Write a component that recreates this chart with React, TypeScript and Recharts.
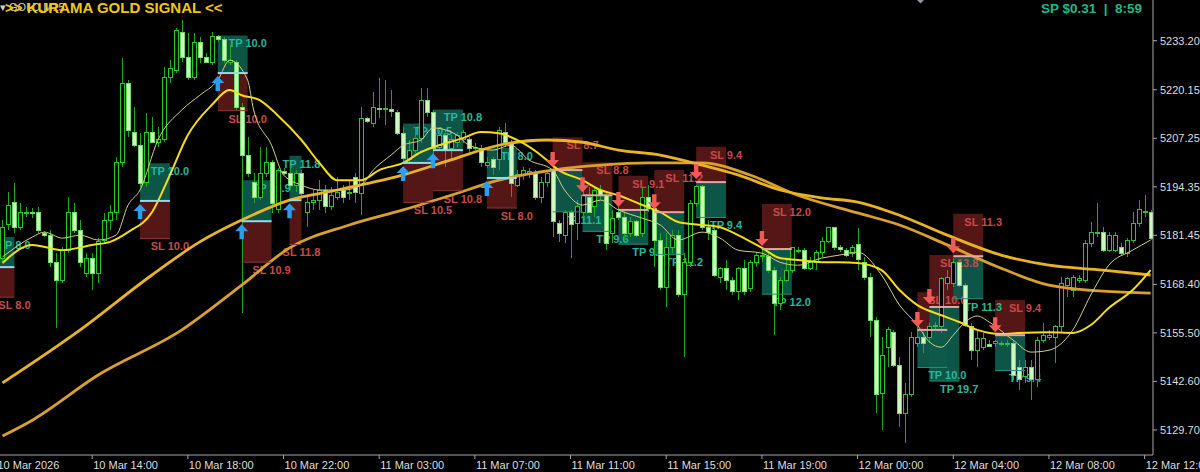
import React from 'react';
import { ComposedChart, Bar, Line, XAxis, YAxis, ReferenceArea, ReferenceLine, Scatter } from 'recharts';

// GOLD M15, bar 1 = second bar from the left edge; [open, high, low, close]
const ohlc: [number, number, number, number][] = [
  [5175.4, 5185.5, 5174.3, 5183.4], [5184.2, 5192.9, 5182.8, 5189.5], [5190.3, 5195.3, 5182.0, 5183.4], [5183.6, 5190.0, 5182.8, 5187.6],
  [5187.4, 5189.0, 5186.3, 5187.6], [5187.6, 5188.7, 5186.0, 5187.4], [5187.6, 5189.0, 5182.0, 5182.8], [5182.0, 5182.6, 5181.0, 5181.5],
  [5181.5, 5182.8, 5173.0, 5174.1], [5174.1, 5176.7, 5156.8, 5169.5], [5169.5, 5178.3, 5168.7, 5177.5], [5177.5, 5191.6, 5176.7, 5187.4],
  [5187.4, 5190.0, 5182.0, 5182.8], [5182.8, 5185.5, 5173.0, 5174.3], [5171.4, 5176.7, 5170.3, 5175.4], [5175.4, 5176.7, 5166.9, 5171.4],
  [5171.4, 5180.7, 5168.7, 5179.7], [5180.2, 5187.4, 5179.4, 5185.5], [5185.5, 5189.5, 5182.8, 5187.4], [5187.4, 5202.3, 5185.5, 5200.7],
  [5200.7, 5228.6, 5199.6, 5221.9], [5221.9, 5222.7, 5207.6, 5209.4], [5208.9, 5215.5, 5204.9, 5205.4], [5205.4, 5208.6, 5194.3, 5195.3],
  [5195.6, 5214.0, 5194.3, 5208.9], [5208.9, 5212.9, 5206.0, 5206.2], [5206.0, 5210.2, 5204.9, 5206.8], [5206.8, 5226.2, 5206.2, 5223.3],
  [5223.3, 5228.0, 5221.9, 5225.9], [5225.4, 5236.6, 5224.6, 5236.0], [5235.5, 5238.7, 5227.5, 5228.6], [5228.6, 5235.2, 5222.7, 5223.3],
  [5223.3, 5235.2, 5222.7, 5232.6], [5232.6, 5234.2, 5227.2, 5228.6], [5228.6, 5229.9, 5227.2, 5227.5], [5227.5, 5235.5, 5226.7, 5234.2],
  [5234.2, 5234.7, 5232.8, 5233.4], [5233.4, 5234.2, 5227.2, 5228.0], [5227.5, 5232.0, 5226.7, 5228.0], [5227.5, 5228.0, 5214.8, 5215.5],
  [5215.5, 5216.6, 5160.8, 5202.8], [5202.8, 5207.6, 5196.9, 5198.0], [5195.6, 5198.0, 5190.0, 5191.6], [5191.6, 5204.9, 5190.8, 5198.0],
  [5198.0, 5204.9, 5196.9, 5200.9], [5200.7, 5201.5, 5187.4, 5190.0], [5188.2, 5199.3, 5187.4, 5198.8], [5198.3, 5199.3, 5197.5, 5198.0],
  [5198.0, 5199.6, 5193.5, 5194.8], [5194.8, 5198.8, 5192.9, 5198.0], [5198.0, 5198.8, 5191.6, 5192.7], [5187.4, 5191.6, 5183.6, 5190.3],
  [5190.3, 5193.5, 5188.2, 5190.8], [5190.8, 5196.1, 5188.2, 5193.5], [5193.5, 5194.8, 5187.4, 5189.0], [5189.0, 5194.3, 5188.2, 5192.1],
  [5191.6, 5196.9, 5190.8, 5192.9], [5193.5, 5194.8, 5190.0, 5191.4], [5192.7, 5196.1, 5190.8, 5192.9], [5196.9, 5198.0, 5190.0, 5192.9],
  [5192.7, 5215.5, 5186.8, 5212.6], [5212.6, 5212.9, 5211.3, 5211.6], [5211.3, 5219.5, 5210.2, 5215.5], [5215.3, 5223.3, 5212.6, 5215.0],
  [5214.8, 5222.7, 5210.8, 5215.3], [5215.0, 5220.1, 5212.9, 5214.5], [5214.2, 5214.8, 5208.1, 5208.6], [5208.6, 5210.2, 5200.7, 5202.0],
  [5201.5, 5206.8, 5200.7, 5204.1], [5204.1, 5210.2, 5203.3, 5207.3], [5207.3, 5220.6, 5206.0, 5217.4], [5217.4, 5220.6, 5212.9, 5214.0],
  [5214.0, 5214.8, 5201.5, 5204.6], [5204.9, 5209.4, 5204.1, 5208.1], [5208.1, 5209.4, 5199.6, 5204.1], [5204.6, 5208.1, 5201.5, 5206.8],
  [5206.2, 5208.9, 5204.9, 5208.1], [5206.8, 5209.4, 5206.0, 5208.9], [5206.8, 5207.6, 5203.3, 5204.6], [5204.6, 5206.0, 5203.6, 5204.9],
  [5204.6, 5205.4, 5199.6, 5200.7], [5200.1, 5202.3, 5199.3, 5200.9], [5201.5, 5202.3, 5197.5, 5199.6], [5201.5, 5210.2, 5198.8, 5209.4],
  [5208.9, 5211.3, 5204.9, 5206.0], [5206.2, 5206.8, 5191.6, 5195.3], [5194.8, 5198.8, 5194.3, 5197.5], [5197.5, 5199.6, 5196.1, 5198.8],
  [5197.5, 5199.3, 5196.6, 5198.3], [5198.0, 5198.8, 5190.8, 5191.6], [5191.6, 5196.9, 5190.0, 5195.6], [5195.6, 5198.8, 5194.3, 5198.0],
  [5198.8, 5199.6, 5181.0, 5185.0], [5184.7, 5185.5, 5179.7, 5182.0], [5181.5, 5188.2, 5179.4, 5187.4], [5187.4, 5188.2, 5175.4, 5184.2],
  [5184.7, 5190.8, 5180.2, 5189.0], [5187.4, 5194.3, 5186.3, 5192.1], [5191.6, 5194.3, 5187.4, 5187.6], [5189.0, 5194.3, 5186.3, 5193.5],
  [5193.5, 5194.8, 5190.8, 5192.1], [5192.1, 5192.9, 5177.5, 5179.4], [5182.0, 5188.2, 5179.4, 5186.0], [5187.6, 5189.0, 5185.5, 5186.3],
  [5186.3, 5188.2, 5180.2, 5182.0], [5182.0, 5186.3, 5181.0, 5185.0], [5185.0, 5185.5, 5181.0, 5181.5], [5182.0, 5194.3, 5181.0, 5191.4],
  [5191.4, 5194.8, 5187.6, 5188.7], [5188.7, 5190.0, 5173.0, 5180.2], [5180.2, 5182.0, 5166.9, 5167.7], [5167.7, 5182.0, 5162.4, 5178.1],
  [5178.1, 5182.8, 5176.7, 5181.5], [5181.5, 5182.8, 5165.0, 5165.6], [5165.6, 5176.7, 5149.1, 5174.1], [5174.1, 5190.8, 5173.0, 5190.0],
  [5190.0, 5194.8, 5189.0, 5194.3], [5194.3, 5194.8, 5182.8, 5183.6], [5183.6, 5185.5, 5180.2, 5182.3], [5182.8, 5183.6, 5170.3, 5170.9],
  [5170.3, 5173.0, 5168.7, 5172.7], [5172.7, 5174.9, 5166.9, 5169.5], [5169.5, 5170.3, 5165.6, 5166.4], [5166.4, 5173.0, 5164.2, 5172.7],
  [5172.7, 5174.9, 5165.6, 5166.4], [5167.4, 5174.9, 5166.4, 5174.3], [5174.3, 5177.0, 5173.0, 5176.2], [5175.7, 5177.5, 5174.3, 5176.2],
  [5175.7, 5176.7, 5171.4, 5172.2], [5172.2, 5173.0, 5154.9, 5163.4], [5163.4, 5170.3, 5161.6, 5169.5], [5169.5, 5174.9, 5169.0, 5172.2],
  [5172.2, 5178.3, 5171.4, 5178.1], [5177.3, 5178.3, 5176.7, 5177.5], [5177.3, 5178.1, 5172.2, 5172.7], [5172.7, 5175.7, 5172.2, 5174.3],
  [5174.3, 5177.5, 5172.2, 5177.0], [5177.0, 5181.0, 5175.7, 5179.7], [5179.7, 5183.6, 5179.4, 5183.4], [5183.4, 5183.6, 5177.5, 5178.1],
  [5178.1, 5178.9, 5177.0, 5177.8], [5177.5, 5178.1, 5175.7, 5176.2], [5176.7, 5178.9, 5175.7, 5178.1], [5178.9, 5183.4, 5172.2, 5174.9],
  [5174.3, 5175.7, 5169.5, 5170.3], [5170.3, 5171.4, 5154.4, 5158.9], [5158.9, 5159.7, 5134.2, 5139.0], [5139.5, 5154.4, 5129.7, 5149.6],
  [5151.7, 5157.1, 5146.4, 5156.3], [5155.7, 5156.3, 5146.4, 5146.9], [5146.9, 5149.1, 5130.5, 5134.2], [5134.2, 5142.2, 5126.2, 5139.0],
  [5139.0, 5155.7, 5138.4, 5154.4], [5152.8, 5157.1, 5151.7, 5154.4], [5154.4, 5155.7, 5150.1, 5152.8], [5154.4, 5158.1, 5152.8, 5157.1],
  [5157.1, 5158.4, 5156.3, 5157.6], [5157.1, 5170.3, 5155.5, 5170.1], [5168.7, 5172.2, 5166.9, 5170.3], [5168.7, 5175.4, 5167.7, 5174.3],
  [5174.3, 5174.9, 5167.7, 5168.2], [5168.2, 5168.7, 5157.1, 5157.6], [5157.1, 5158.1, 5148.3, 5150.9], [5150.9, 5156.3, 5146.4, 5154.1],
  [5151.7, 5155.5, 5150.9, 5154.1], [5152.3, 5153.6, 5151.7, 5152.0], [5152.8, 5153.6, 5151.7, 5153.1], [5152.5, 5153.3, 5152.0, 5152.8],
  [5152.3, 5153.6, 5151.7, 5152.8], [5152.8, 5153.6, 5143.0, 5144.3], [5146.4, 5148.3, 5140.3, 5143.0], [5143.8, 5148.3, 5142.2, 5146.4],
  [5146.4, 5148.3, 5137.6, 5143.0], [5143.0, 5154.4, 5141.1, 5153.6], [5153.6, 5158.1, 5152.8, 5154.9], [5154.4, 5156.3, 5153.6, 5154.9],
  [5154.4, 5157.6, 5147.5, 5157.1], [5157.1, 5170.3, 5155.5, 5168.7], [5168.2, 5170.3, 5165.0, 5170.1], [5166.9, 5170.9, 5165.0, 5170.3],
  [5169.5, 5170.9, 5168.7, 5170.1], [5169.5, 5180.2, 5168.7, 5179.4], [5179.4, 5185.0, 5178.3, 5182.3], [5182.0, 5190.0, 5181.0, 5182.3],
  [5182.3, 5183.6, 5177.0, 5177.5], [5177.5, 5182.3, 5177.0, 5181.5], [5177.5, 5182.3, 5177.0, 5181.5], [5178.1, 5179.4, 5176.2, 5176.7],
  [5176.7, 5180.7, 5175.7, 5180.2], [5180.2, 5187.6, 5179.4, 5184.7], [5184.7, 5190.8, 5183.6, 5188.2], [5187.4, 5192.1, 5186.3, 5187.9],
  [5187.4, 5188.2, 5180.2, 5180.7],
];

// moving averages as [bar, price]
const maFast: [number, number][] = [
  [1, 5175.7], [6, 5181.0], [8, 5182.3], [11, 5180.7], [14, 5181.5], [17, 5180.2], [20, 5181.5], [22, 5189.5], [24, 5193.5],
  [27, 5206.8], [31, 5214.8], [34, 5218.7], [37, 5222.7], [39, 5228.0], [42, 5222.7], [43, 5214.8], [46, 5205.4], [48, 5197.5],
  [51, 5194.8], [54, 5193.5], [58, 5193.5], [61, 5194.8], [63, 5198.8], [66, 5202.8], [68, 5205.4], [71, 5206.8], [73, 5210.0],
  [77, 5208.1], [79, 5205.4], [83, 5204.1], [86, 5205.4], [89, 5201.5], [93, 5198.8], [95, 5193.5], [98, 5189.5], [101, 5190.8],
  [104, 5188.2], [108, 5186.0], [111, 5184.2], [114, 5180.2], [118, 5182.3], [121, 5180.7], [124, 5177.5], [128, 5176.7],
  [131, 5174.3], [134, 5173.5], [138, 5175.4], [141, 5176.2], [144, 5177.0], [148, 5170.9], [151, 5162.9], [154, 5157.6],
  [156, 5153.1], [158, 5151.7], [160, 5154.9], [162, 5158.4], [164, 5160.0], [166, 5158.4], [170, 5153.6], [173, 5150.4],
  [176, 5150.9], [180, 5156.3], [183, 5165.6], [186, 5173.5], [190, 5177.5], [193, 5180.2],
];
const maMid: [number, number][] = [
  [1, 5174.1], [6, 5178.9], [11, 5177.5], [16, 5178.9], [19, 5179.7], [22, 5182.3], [26, 5187.6], [29, 5197.5], [32, 5208.1],
  [36, 5216.1], [39, 5220.1], [41, 5218.7], [44, 5217.4], [47, 5213.4], [51, 5206.8], [54, 5200.7], [57, 5196.1], [61, 5196.1],
  [64, 5198.8], [68, 5200.7], [71, 5203.6], [74, 5205.4], [78, 5207.3], [81, 5208.9], [84, 5208.6], [88, 5206.0], [91, 5202.8],
  [94, 5198.8], [98, 5196.1], [101, 5193.5], [104, 5192.1], [108, 5189.5], [111, 5187.6], [114, 5185.0], [118, 5184.2],
  [121, 5183.6], [124, 5181.5], [128, 5178.1], [131, 5175.4], [134, 5174.9], [138, 5174.3], [141, 5174.3], [144, 5174.1],
  [148, 5172.2], [151, 5166.9], [154, 5162.9], [158, 5160.2], [161, 5158.4], [164, 5156.3], [168, 5155.2], [171, 5155.5],
  [176, 5155.7], [180, 5155.5], [183, 5157.6], [186, 5162.1], [190, 5166.9], [193, 5172.2],
];
const maSlowA: [number, number][] = [
  [1, 5142.2], [14, 5156.3], [26, 5170.9], [34, 5179.7], [41, 5185.5], [49, 5190.8], [57, 5193.5], [68, 5197.5], [76, 5201.5],
  [84, 5205.4], [92, 5206.8], [98, 5206.2], [104, 5204.1], [111, 5202.8], [118, 5200.1], [124, 5197.5], [131, 5193.5],
  [138, 5191.4], [144, 5190.3], [151, 5186.8], [159, 5181.5], [168, 5176.2], [176, 5173.5], [185, 5172.2], [193, 5170.9],
];
const maSlowB: [number, number][] = [
  [1, 5128.1], [6, 5132.3], [17, 5144.3], [31, 5156.3], [41, 5168.2], [49, 5178.1], [59, 5184.2], [68, 5188.2], [76, 5192.1],
  [84, 5196.1], [93, 5198.8], [101, 5200.1], [109, 5200.7], [118, 5200.7], [126, 5197.5], [134, 5192.1], [144, 5187.4],
  [151, 5184.2], [159, 5178.9], [168, 5172.7], [176, 5168.2], [185, 5166.6], [193, 5166.1],
];

type Signal = { bar: number; end: number; side: 'buy' | 'sell'; entry: number; tp: number; sl: number; tpText: string; slText: string };
const signals: Signal[] = [
  { bar: -2, end: 3, side: 'buy', entry: 5173.0, tp: 5181.0, sl: 5165.0, tpText: 'TP 8.0', slText: 'SL 8.0' },
  { bar: 24, end: 29, side: 'buy', entry: 5190.6, tp: 5200.6, sl: 5180.6, tpText: 'TP 10.0', slText: 'SL 10.0' },
  { bar: 37, end: 42, side: 'buy', entry: 5224.6, tp: 5234.6, sl: 5214.6, tpText: 'TP 10.0', slText: 'SL 10.0' },
  { bar: 41, end: 46, side: 'buy', entry: 5185.2, tp: 5196.1, sl: 5174.3, tpText: 'TP 10.9', slText: 'SL 10.9' },
  { bar: 49, end: 51, side: 'buy', entry: 5190.8, tp: 5202.6, sl: 5179.0, tpText: 'TP 11.8', slText: 'SL 11.8' },
  { bar: 68, end: 73, side: 'buy', entry: 5200.7, tp: 5211.2, sl: 5190.2, tpText: 'TP 10.5', slText: 'SL 10.5' },
  { bar: 73, end: 78, side: 'buy', entry: 5204.1, tp: 5214.9, sl: 5193.3, tpText: 'TP 10.8', slText: 'SL 10.8' },
  { bar: 82, end: 87, side: 'buy', entry: 5196.7, tp: 5204.7, sl: 5188.7, tpText: 'TP 8.0', slText: 'SL 8.0' },
  { bar: 93, end: 98, side: 'sell', entry: 5198.8, tp: 5187.7, sl: 5207.5, tpText: 'TP 11.1', slText: 'SL 8.7' },
  { bar: 98, end: 103, side: 'sell', entry: 5192.1, tp: 5182.5, sl: 5200.9, tpText: 'TP 9.6', slText: 'SL 8.8' },
  { bar: 104, end: 109, side: 'sell', entry: 5188.2, tp: 5179.1, sl: 5197.3, tpText: 'TP 9.1', slText: 'SL 9.1' },
  { bar: 110, end: 115, side: 'sell', entry: 5187.6, tp: 5176.4, sl: 5198.8, tpText: 'TP 11.2', slText: 'SL 11.2' },
  { bar: 117, end: 122, side: 'sell', entry: 5195.6, tp: 5186.2, sl: 5205.0, tpText: 'TP 9.4', slText: 'SL 9.4' },
  { bar: 128, end: 133, side: 'sell', entry: 5177.8, tp: 5165.8, sl: 5189.8, tpText: 'TP 12.0', slText: 'SL 12.0' },
  { bar: 154, end: 159, side: 'sell', entry: 5156.3, tp: 5146.3, sl: 5166.3, tpText: 'TP 10.0', slText: 'SL 10.0' },
  { bar: 156, end: 161, side: 'sell', entry: 5162.4, tp: 5142.7, sl: 5176.2, tpText: 'TP 19.7', slText: 'SL 13.8' },
  { bar: 160, end: 165, side: 'sell', entry: 5175.9, tp: 5164.6, sl: 5187.2, tpText: 'TP 11.3', slText: 'SL 11.3' },
  { bar: 167, end: 172, side: 'sell', entry: 5154.9, tp: 5145.5, sl: 5164.3, tpText: 'TP 9.4', slText: 'SL 9.4' },
];

const xTickBars = [0, 16, 32, 48, 64, 80, 96, 112, 128, 144, 160, 176, 192];
const xTickLabels = ['10 Mar 2026', '10 Mar 14:00', '10 Mar 18:00', '10 Mar 22:00', '11 Mar 03:00', '11 Mar 07:00', '11 Mar 11:00',
  '11 Mar 15:00', '11 Mar 19:00', '12 Mar 00:00', '12 Mar 04:00', '12 Mar 08:00', '12 Mar 12:00'];
const yTicks = [5129.7, 5142.6, 5155.5, 5168.4, 5181.45, 5194.35, 5207.25, 5220.15, 5233.2];

const FONT = '"Liberation Sans", Arial, sans-serif';
const AXIS = '#a8a8a8';
const TP_FILL = '#0e5a4b';
const SL_FILL = '#5a1717';
const TP_TEXT = '#27b89b';
const SL_TEXT = '#c94a4a';

const candleData = ohlc.map(([o, h, l, c], k) => ({ bar: k + 1, o, h, l, c, range: [l, h] }));
const toPts = (arr: [number, number][]) => arr.map(([bar, v]) => ({ bar, v }));
const buyArrows = signals.filter((s) => s.side === 'buy').map((s) => ({ bar: s.bar, y: s.entry }));
const sellArrows = signals.filter((s) => s.side === 'sell').map((s) => ({ bar: s.bar, y: s.entry }));

const Candle = (props: any) => {
  const { x, y, width, height, payload } = props;
  if (payload == null) return null;
  const top = Math.min(y, y + height);
  const bot = Math.max(y, y + height);
  const k = (bot - top) / (payload.h - payload.l);
  const cx = Math.round(x + width / 2);
  const yo = top + (payload.h - payload.o) * k;
  const yc = top + (payload.h - payload.c) * k;
  const up = payload.c >= payload.o;
  const bTop = Math.min(yo, yc);
  const bH = Math.max(Math.abs(yc - yo), 1);
  return (
    <g shapeRendering="crispEdges">
      <rect x={cx} y={top} width={1} height={bot - top} fill="#1fa81f" />
      {up ? (
        <rect x={cx - 1.5} y={bTop} width={4} height={bH} fill="#000" stroke="#27c727" strokeWidth={1} />
      ) : (
        <rect x={cx - 1.5} y={bTop} width={4} height={bH} fill="#cdf7bb" stroke="#74d96c" strokeWidth={1} />
      )}
    </g>
  );
};

const UpArrow = (props: any) => {
  const { cx, cy } = props;
  const t = cy + 3;
  return (
    <polygon
      points={`${cx},${t} ${cx + 6.5},${t + 7} ${cx + 2.2},${t + 7} ${cx + 2.2},${t + 15} ${cx - 2.2},${t + 15} ${cx - 2.2},${t + 7} ${cx - 6.5},${t + 7}`}
      fill="#2a9ff2"
    />
  );
};

const DownArrow = (props: any) => {
  const { cx, cy } = props;
  const t = cy - 3;
  return (
    <polygon
      points={`${cx},${t} ${cx + 6.5},${t - 7} ${cx + 2.2},${t - 7} ${cx + 2.2},${t - 15} ${cx - 2.2},${t - 15} ${cx - 2.2},${t - 7} ${cx - 6.5},${t - 7}`}
      fill="#f25a58"
    />
  );
};

const BoxLabel = (props: any) => {
  const { viewBox, text, color, where } = props;
  if (!viewBox) return null;
  const { x, y, width, height } = viewBox;
  const ly = where === 'top' ? y + 8 : y + height + 8;
  return (
    <text x={x + width} y={ly} dy="0.36em" textAnchor="middle" fill={color} fontSize={11} fontWeight="bold" fontFamily={FONT}>
      {text}
    </text>
  );
};

const XTick = (props: any) => {
  const { x, y, payload } = props;
  const idx = xTickBars.indexOf(payload.value);
  return (
    <text x={x + 1} y={y + 8} fill="#dedede" fontSize={11} fontFamily={FONT} textAnchor="start">
      {xTickLabels[idx]}
    </text>
  );
};

const lineProps = { type: 'monotone' as const, dot: false, activeDot: false, isAnimationActive: false, dataKey: 'v' };

export default function App() {
  return (
    <div style={{ position: 'fixed', left: 0, top: 0, width: 1200, height: 472, background: '#000', overflow: 'hidden' }}>
      <ComposedChart width={1200} height={472} data={candleData} margin={{ top: 0, right: 0, bottom: 0, left: -3.5 }}>
        <XAxis
          dataKey="bar"
          type="number"
          domain={[0, 193.4]}
          allowDataOverflow
          ticks={xTickBars}
          interval={0}
          height={17}
          axisLine={{ stroke: AXIS }}
          tickLine={{ stroke: AXIS }}
          tickSize={4}
          tick={<XTick />}
        />
        <YAxis
          orientation="right"
          type="number"
          domain={[5123.04, 5244.02]}
          allowDataOverflow
          ticks={yTicks}
          interval={0}
          width={47}
          axisLine={{ stroke: AXIS }}
          tickLine={{ stroke: AXIS }}
          tickSize={4}
          tickMargin={3}
          tick={{ fill: '#dedede', fontSize: 11, fontFamily: FONT }}
          tickFormatter={(v: number) => v.toFixed(2)}
        />
        {/* TP / SL zones */}
        {signals.map((s, k) => {
          const buy = s.side === 'buy';
          return (
            <React.Fragment key={'box' + k}>
              <ReferenceArea x1={s.bar} x2={s.end} y1={s.entry} y2={Math.max(s.tp, s.sl)} fill={buy ? TP_FILL : SL_FILL}
                fillOpacity={0.95} stroke="none" ifOverflow="hidden" />
              <ReferenceArea x1={s.bar} x2={s.end} y1={Math.min(s.tp, s.sl)} y2={s.entry} fill={buy ? SL_FILL : TP_FILL}
                fillOpacity={0.95} stroke="none" ifOverflow="hidden" />
            </React.Fragment>
          );
        })}
        {/* zone labels, above every box */}
        {signals.map((s, k) => {
          const buy = s.side === 'buy';
          return (
            <React.Fragment key={'lab' + k}>
              <ReferenceArea x1={s.bar} x2={s.end} y1={s.entry} y2={Math.max(s.tp, s.sl)} fill="none" stroke="none" ifOverflow="hidden"
                label={<BoxLabel text={buy ? s.tpText : s.slText} color={buy ? TP_TEXT : SL_TEXT} where="top" />} />
              <ReferenceArea x1={s.bar} x2={s.end} y1={Math.min(s.tp, s.sl)} y2={s.entry} fill="none" stroke="none" ifOverflow="hidden"
                label={<BoxLabel text={buy ? s.slText : s.tpText} color={buy ? SL_TEXT : TP_TEXT} where="below" />} />
            </React.Fragment>
          );
        })}
        <Bar dataKey="range" barSize={4} shape={<Candle />} isAnimationActive={false} />
        <Line {...lineProps} data={toPts(maSlowB)} stroke="#d9a02c" strokeWidth={2.8} />
        <Line {...lineProps} data={toPts(maSlowA)} stroke="#e8b324" strokeWidth={2.8} />
        <Line {...lineProps} data={toPts(maMid)} stroke="#f7dd12" strokeWidth={2} />
        <Line {...lineProps} data={toPts(maFast)} stroke="#d8d083" strokeWidth={1} />
        {signals.map((s, k) => (
          <React.Fragment key={'ln' + k}>
            <ReferenceLine
              segment={[{ x: s.bar, y: s.entry }, { x: s.end, y: s.entry }]}
              stroke={s.side === 'buy' ? '#8fdcea' : '#e6a4a4'}
              strokeWidth={2}
              ifOverflow="hidden"
            />
            <ReferenceLine
              segment={[{ x: s.bar, y: Math.min(s.tp, s.sl) }, { x: s.end, y: Math.min(s.tp, s.sl) }]}
              stroke={s.side === 'buy' ? '#8a3535' : '#25907c'}
              strokeWidth={1}
              ifOverflow="hidden"
            />
          </React.Fragment>
        ))}
        <Scatter data={buyArrows} dataKey="y" shape={<UpArrow />} isAnimationActive={false} />
        <Scatter data={sellArrows} dataKey="y" shape={<DownArrow />} isAnimationActive={false} />
      </ComposedChart>

      <div style={{ position: 'absolute', left: 0, top: 1, fontFamily: FONT, fontSize: 11, color: '#cfcfcf', lineHeight: '12px', whiteSpace: 'nowrap' }}>
        ▾ GOLD,M15
      </div>
      <div style={{ position: 'absolute', left: 5, top: 0, fontFamily: FONT, fontSize: 15, fontWeight: 'bold', color: '#f2c811', lineHeight: '15px', whiteSpace: 'nowrap' }}>
        {'>> KURAMA GOLD SIGNAL <<'}
      </div>
      <div style={{ position: 'absolute', left: 1041, top: 1, fontFamily: FONT, fontSize: 13.5, fontWeight: 'bold', color: '#1fba8c', lineHeight: '16px', whiteSpace: 'pre' }}>
        {'SP $0.31  |  8:59'}
      </div>
      <div style={{ position: 'absolute', left: 917, top: -5, width: 7, height: 7, background: '#8f96a0', transform: 'rotate(45deg)' }} />
    </div>
  );
}
